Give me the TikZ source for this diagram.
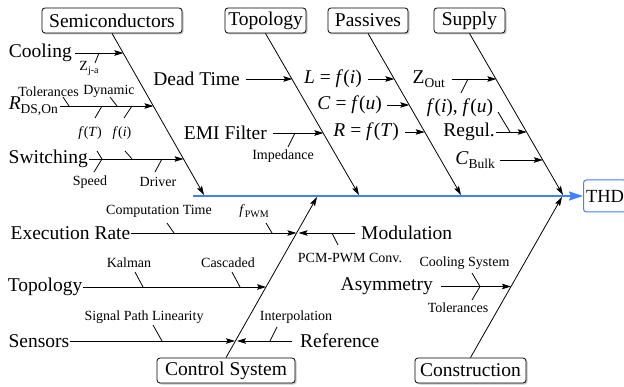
\documentclass[tikz,border=0pt]{standalone}
\usepackage{fontspec}
\setmainfont{Liberation Serif}
\usetikzlibrary{arrows.meta,shadows}
\definecolor{spineblue}{RGB}{66,128,255}
\newcommand\bigf{\fontsize{19.5}{22}\selectfont}
\newcommand\thdf{\fontsize{18.5}{21}\selectfont}
\newcommand\smallf{\fontsize{14}{16}\selectfont}
\newcommand\bsub[1]{\raisebox{-4pt}{\fontsize{13.5}{14}\selectfont #1}}
\newcommand\ssub[1]{\raisebox{-3pt}{\fontsize{10}{11}\selectfont #1}}
\begin{document}
\begin{tikzpicture}[x=1pt,y=-1pt,
  cat/.style={draw, rounded corners=3pt, fill=white, font=\bigf, inner xsep=2pt, inner ysep=0pt,
    minimum height=25pt, line width=0.8pt,
    drop shadow={shadow xshift=1.5pt, shadow yshift=-1.5pt, fill=black!45}},
  thdbox/.style={draw=spineblue, rounded corners=3pt, fill=white, font=\thdf, inner xsep=2.5pt,
    minimum height=32pt, line width=1pt},
  lbl/.style={font=\bigf, inner ysep=1pt},
  sml/.style={font=\smallf, inner sep=1pt},
  arr/.style={-{Stealth[length=9pt,width=5.5pt,inset=1.5pt]}, line width=0.8pt},
  spine/.style={-{Stealth[length=14pt,width=9pt,inset=2pt]}, line width=1.6pt, draw=spineblue, fill=spineblue},
  tick/.style={line width=0.8pt},
]
\useasboundingbox (0,0) rectangle (624,387);

% category boxes
\node[cat, minimum width=140pt] (semi) at (112,20.5) {Semiconductors};
\node[cat, minimum width=81pt] (topo) at (265.5,20.5) {Topology};
\node[cat, minimum width=80pt] (pass) at (368,20.5) {Passives};
\node[cat, minimum width=71pt] (supp) at (469.5,20.5) {Supply};
\node[cat, minimum width=138pt] (ctrl) at (226,370.5) {Control System};
\node[cat, minimum width=111pt] (cons) at (470.5,370.5) {Construction};
\node[thdbox, anchor=west] (thd) at (583,196) {THD};

% spine
\coordinate (spS) at (193,196);
\draw[spine] (spS) -- (thd.west);

% bones
\coordinate (semiE) at (204,195);
\coordinate (topoE) at (359,195);
\coordinate (passE) at (461,195);
\coordinate (suppE) at (563,195);
\coordinate (ctrlE) at (317,197);
\coordinate (consE) at (562,197);
\draw[arr] (semi.south) -- (semiE);
\draw[arr] (topo.south) -- (topoE);
\draw[arr] (pass.south) -- (passE);
\draw[arr] (supp.south) -- (suppE);
\draw[arr] (ctrl.north) -- (ctrlE);
\draw[arr] (cons.north) -- (consE);

% ---- Semiconductors
\node[lbl, anchor=east, inner xsep=3pt] (cool) at (75,53) {Cooling};
\coordinate (coolE) at (123.4,53);
\draw[arr] (cool.east) -- (coolE);
\draw[tick] (99,53) -- (95,63);
\node[sml] (zja) at (89,68) {Z\ssub{j-a}};

\node[lbl, anchor=east, inner xsep=2pt] (rds) at (60,106) {\textit{R}\bsub{DS,On}};
\coordinate (rdsE) at (153.5,106);
\draw[arr] (rds.east) -- (rdsE);
\node[sml] (tol1) at (48.5,91.5) {Tolerances};
\node[sml] (dyn) at (109,91.5) {Dynamic};
\draw[tick] (63,97) -- (69,106);
\draw[tick] (110,97) -- (117,106);
\draw[tick] (102,106) -- (95,118);
\draw[tick] (132,106) -- (124,118);
\node[sml] (fT) at (90,133) {\textit{f}(\textit{T})};
\node[sml] (fi) at (122,133) {\textit{f}(\textit{i})};

\node[lbl, anchor=east, inner xsep=1pt] (sw) at (89,159) {Switching};
\coordinate (swE) at (183.6,159);
\draw[arr] (sw.east) -- (swE);
\draw[tick] (97,151) -- (102,159) -- (94,172);
\draw[tick] (125,151) -- (132,159);
\draw[tick] (162,159) -- (155,172);
\node[sml] (speed) at (90,182) {Speed};
\node[sml] (driver) at (158,182) {Driver};

% ---- Topology (top)
\node[lbl, anchor=east, inner xsep=6pt] (dead) at (246,79) {Dead Time};
\coordinate (deadE) at (292.4,79);
\draw[arr] (dead.east) -- (deadE);
\node[lbl, anchor=east, inner xsep=6pt] (emi) at (273,133) {EMI Filter};
\coordinate (emiE) at (323.4,133);
\draw[arr] (emi.east) -- (emiE);
\draw[tick] (295,133) -- (288,147);
\node[sml] (imp) at (283,156) {Impedance};

% ---- Passives
\node[lbl, anchor=east, inner xsep=6pt] (Lfi) at (368,79) {\textit{L} = \textit{f}(\textit{i})};
\coordinate (LfiE) at (394.4,79);
\draw[arr] (Lfi.east) -- (LfiE);
\node[lbl, anchor=east, inner xsep=5pt] (Cfu) at (387,105) {\textit{C} = \textit{f}(\textit{u})};
\coordinate (CfuE) at (409.3,105);
\draw[arr] (Cfu.east) -- (CfuE);
\node[lbl, anchor=east, inner xsep=6pt] (RfT) at (405,132) {\textit{R} = \textit{f}(\textit{T})};
\coordinate (RfTE) at (424.8,132);
\draw[arr] (RfT.east) -- (RfTE);

% ---- Supply
\node[lbl, anchor=east, inner xsep=7pt] (zout) at (452,79) {Z\bsub{Out}};
\coordinate (zoutE) at (496.4,79);
\draw[arr] (zout.east) -- (zoutE);
\draw[tick] (468,79) -- (461,93);
\node[lbl] (fifu) at (460,108) {\textit{f}(\textit{i}), \textit{f}(\textit{u})};
\node[lbl, anchor=east, inner xsep=0.5pt] (regul) at (495.5,132) {Regul.};
\coordinate (regulE) at (526.8,132);
\draw[arr] (regul.east) -- (regulE);
\draw[tick] (498,112) -- (510,132);
\node[lbl, anchor=east, inner xsep=5pt] (cbulk) at (500,160) {\textit{C}\bsub{Bulk}};
\coordinate (cbulkE) at (542.9,160);
\draw[arr] (cbulk.east) -- (cbulkE);

% ---- Control System
\node[lbl, anchor=east, inner xsep=0.5pt] (exec) at (131,233) {Execution Rate};
\coordinate (execE) at (296.5,233);
\draw[arr] (exec.east) -- (execE);
\draw[tick] (174,233) -- (167,223);
\draw[tick] (272,233) -- (266,223);
\node[sml] (comp) at (159,211) {Computation Time};
\node[sml] (fpwm) at (254,211) {\textit{f}\ssub{PWM}};

\node[lbl, anchor=west, inner xsep=6pt] (mod) at (355,233) {Modulation};
\coordinate (modE) at (298.5,233);
\draw[arr] (mod.west) -- (modE);
\draw[tick] (332,233) -- (338,245);
\node[sml] (pcm) at (350,258) {PCM-PWM Conv.};

\node[lbl, anchor=east, inner xsep=0.5pt] (ctopo) at (83,287) {Topology};
\coordinate (ctopoE) at (266.1,287);
\draw[arr] (ctopo.east) -- (ctopoE);
\draw[tick] (143,287) -- (135,272);
\draw[tick] (240,287) -- (232,272);
\node[sml] (kal) at (129,263) {Kalman};
\node[sml] (casc) at (228,263) {Cascaded};

\node[lbl, anchor=east, inner xsep=0.5pt] (sens) at (70,341) {Sensors};
\coordinate (sensE) at (235,341);
\draw[arr] (sens.east) -- (sensE);
\draw[tick] (162,341) -- (153,325);
\node[sml] (spl) at (144,317) {Signal Path Linearity};

\node[lbl, anchor=west, inner xsep=8pt] (ref) at (292,341) {Reference};
\coordinate (refE) at (237,341);
\draw[arr] (ref.west) -- (refE);
\draw[tick] (270,341) -- (277,327);
\node[sml] (interp) at (296,317.5) {Interpolation};

% ---- Construction
\node[lbl, anchor=east, inner xsep=8pt] (asym) at (441,286.5) {Asymmetry};
\coordinate (asymE) at (511,286.5);
\draw[arr] (asym.east) -- (asymE);
\draw[tick] (472,273) -- (480,286.5) -- (472,300);
\node[sml] (csys) at (464.5,263.5) {Cooling System};
\node[sml] (tol2) at (458,307.5) {Tolerances};
\end{tikzpicture}
\end{document}
